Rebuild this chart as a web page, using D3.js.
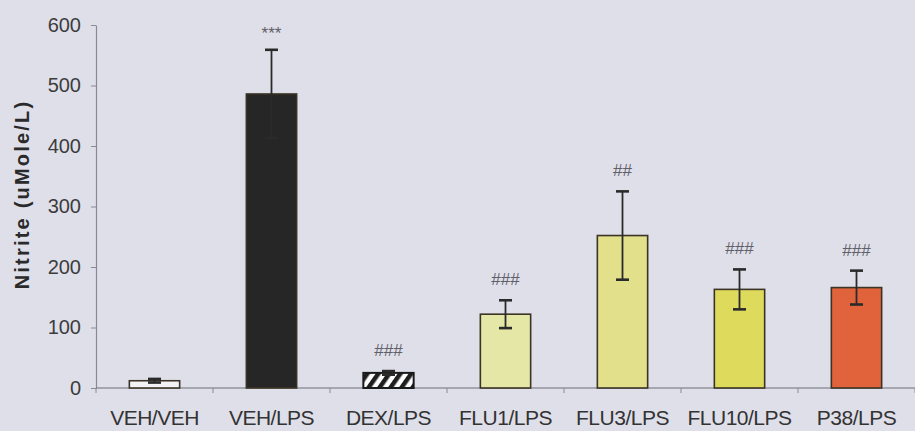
<!DOCTYPE html>
<html>
<head>
<meta charset="utf-8">
<script src="https://cdn.jsdelivr.net/npm/d3@7/dist/d3.min.js"></script>
<style>
  html, body { margin: 0; padding: 0; background: #dfdfea; }
  svg { display: block; }
</style>
</head>
<body>
<svg id="chart" width="915" height="431"></svg>
<script>
// Nitrite production per treatment group (mean ± SEM)
const groups = ["VEH/VEH", "VEH/LPS", "DEX/LPS", "FLU1/LPS", "FLU3/LPS", "FLU10/LPS", "P38/LPS"];
const means = [12, 486, 25, 122, 252, 163, 166];
const errors = [3, 73, 3, 23, 73, 33, 28];
const marks = ["", "***", "###", "###", "##", "###", "###"];
const fills = ["#f2f2f4", "#262626", "hatch", "#e4e7a6", "#e2e08a", "#dedb5c", "#e1633b"];
const yTicks = [0, 100, 200, 300, 400, 500, 600];

const FONT = "Liberation Sans, Arial, sans-serif";
const svg = d3.select("#chart");
const margin = { left: 96, right: 0, top: 25, bottom: 43 };
const W = 915, H = 431;

const x = d3.scaleBand().domain(groups).range([margin.left, W - margin.right]).padding(0);
const y = d3.scaleLinear().domain([0, 600]).range([H - margin.bottom, margin.top]);
const barW = x.bandwidth() * 0.43;

// diagonal hatch for the dexamethasone bar
const defs = svg.append("defs");
const pat = defs.append("pattern")
  .attr("id", "hatch").attr("patternUnits", "userSpaceOnUse")
  .attr("width", 9).attr("height", 9)
  .attr("patternTransform", "rotate(35)");
pat.append("rect").attr("width", 9).attr("height", 9).attr("fill", "#ffffff");
pat.append("rect").attr("width", 4.5).attr("height", 9).attr("fill", "#1e1e1e");

// y axis
const yAxis = d3.axisLeft(y).tickValues(yTicks).tickSize(5).tickPadding(10).tickSizeOuter(0);
const gy = svg.append("g").attr("transform", `translate(${margin.left},0)`).call(yAxis);
gy.select(".domain").attr("stroke", "#8a8a92").attr("stroke-width", 1.2);
gy.selectAll(".tick line").attr("stroke", "#8a8a92");
gy.selectAll(".tick text")
  .attr("font-family", FONT)
  .attr("font-size", 20).attr("fill", "#3c3c3c");

// x axis: ticks sit on category boundaries
const boundaries = d3.range(groups.length + 1).map(i => margin.left + i * x.step());
const gx = svg.append("g");
gx.append("line")
  .attr("x1", margin.left).attr("x2", W).attr("y1", y(0)).attr("y2", y(0))
  .attr("stroke", "#6e6e76").attr("stroke-width", 1.2);
gx.selectAll("line.tk").data(boundaries).join("line").attr("class", "tk")
  .attr("x1", d => d).attr("x2", d => d)
  .attr("y1", y(0)).attr("y2", y(0) + 5)
  .attr("stroke", "#8a8a92");
gx.selectAll("text").data(groups).join("text")
  .attr("x", d => x(d) + x.bandwidth() / 2)
  .attr("y", y(0) + 37)
  .attr("text-anchor", "middle")
  .attr("font-family", FONT)
  .attr("font-size", 21).attr("letter-spacing", -0.5).attr("fill", "#333")
  .text(d => d);

// y title
svg.append("text")
  .attr("transform", `translate(29,${(y(0) + y(600)) / 2 - 12}) rotate(-90)`)
  .attr("text-anchor", "middle")
  .attr("font-family", FONT)
  .attr("font-weight", "bold").attr("font-size", 20).attr("letter-spacing", 2.2)
  .attr("fill", "#2a2a2a")
  .text("Nitrite (uMole/L)");

const data = groups.map((g, i) => ({ g, m: means[i], e: errors[i], mark: marks[i], fill: fills[i] }));
const cx = d => x(d.g) + x.bandwidth() / 2;

// bars
svg.append("g").selectAll("rect").data(data).join("rect")
  .attr("x", d => cx(d) - barW / 2)
  .attr("width", barW)
  .attr("y", d => y(d.m))
  .attr("height", d => y(0) - y(d.m))
  .attr("fill", d => d.fill === "hatch" ? "url(#hatch)" : d.fill)
  .attr("stroke", d => d.fill === "hatch" ? "#1a1a1a" : "#3b3426")
  .attr("stroke-width", d => d.fill === "hatch" ? 2 : 1.6);

// error bars
const eb = svg.append("g").selectAll("g").data(data).join("g")
  .attr("stroke", "#2a2a2b").attr("stroke-width", 1.8);
eb.append("line")
  .attr("x1", cx).attr("x2", cx)
  .attr("y1", d => y(d.m - d.e)).attr("y2", d => y(d.m + d.e));
eb.append("line")
  .attr("x1", d => cx(d) - 6.5).attr("x2", d => cx(d) + 6.5)
  .attr("y1", d => y(d.m + d.e)).attr("y2", d => y(d.m + d.e)).attr("stroke-width", 2.6);
eb.append("line")
  .attr("x1", d => cx(d) - 6.5).attr("x2", d => cx(d) + 6.5)
  .attr("y1", d => y(d.m - d.e)).attr("y2", d => y(d.m - d.e)).attr("stroke-width", 2.6);

// significance marks (asterisks sit high in the glyph box, so drop them a little)
svg.append("g").selectAll("text").data(data.filter(d => d.mark)).join("text")
  .attr("x", cx)
  .attr("y", d => y(d.m + d.e) - (d.mark.startsWith("*") ? 11 : 15))
  .attr("text-anchor", "middle")
  .attr("font-family", FONT)
  .attr("font-size", 17).attr("fill", "#606068")
  .text(d => d.mark);
</script>
</body>
</html>
